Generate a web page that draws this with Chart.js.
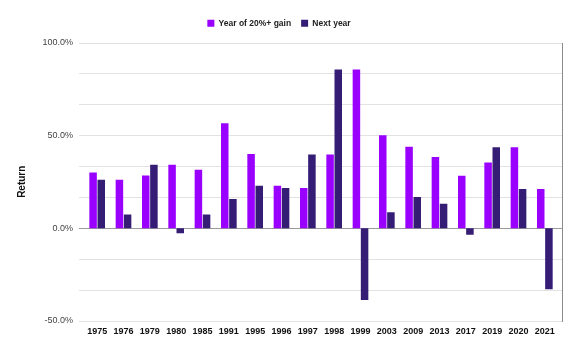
<!DOCTYPE html>
<html>
<head>
<meta charset="utf-8">
<script src="https://cdn.jsdelivr.net/npm/chart.js@4"></script>
<style>
  html, body { margin: 0; padding: 0; background: #fff; }
  #wrap { width: 580px; height: 353px; }
</style>
</head>
<body>
<div id="wrap"><canvas id="c" width="580" height="353"></canvas></div>
<script>
const categories = ["1975","1976","1979","1980","1985","1991","1995","1996","1997","1998","1999","2003","2009","2013","2017","2019","2020","2021"];
const gainYear = [30.0, 26.1, 28.4, 34.1, 31.5, 56.5, 40.0, 22.9, 21.6, 39.7, 85.4, 50.0, 43.9, 38.3, 28.2, 35.4, 43.6, 21.1];
const nextYear = [26.1, 7.3, 34.1, -2.8, 7.3, 15.7, 22.9, 21.6, 39.7, 85.4, -38.7, 8.6, 16.8, 13.2, -3.5, 43.6, 21.1, -32.9];
const yTicks = [-50, -100/3, -50/3, 0, 50/3, 100/3, 50, 200/3, 250/3, 100];
const seriesNames = ["Year of 20%+ gain", "Next year"];
const axisTitle = "Return";

const FONT = '"Liberation Sans", Arial, sans-serif';

const gridPlugin = {
  id: 'customGrid',
  beforeLayout(chart) {
    const lg = chart.legend;
    if (lg && !lg._patched) {
      const orig = lg.fit;
      lg.fit = function () { orig.call(this); this.height += 5; };
      lg._patched = true;
    }
  },
  beforeDatasetsDraw(chart) {
    const ctx = chart.ctx;
    const y = chart.scales.y;
    const area = chart.chartArea;
    const x0 = area.left - 5, x1 = area.right + 4;
    ctx.save();
    y.ticks.forEach(t => {
      const py = Math.round(y.getPixelForValue(t.value)) + 0.5;
      ctx.beginPath();
      ctx.lineWidth = 1;
      ctx.strokeStyle = Math.abs(t.value) < 1e-9 ? '#9a9a9a' : '#e2e2e2';
      ctx.moveTo(x0, py);
      ctx.lineTo(x1, py);
      ctx.stroke();
    });
    const top = Math.round(y.getPixelForValue(100));
    const bot = Math.round(y.getPixelForValue(-50));
    ctx.beginPath();
    ctx.strokeStyle = '#8a8a8a';
    ctx.moveTo(x1 + 0.5, top);
    ctx.lineTo(x1 + 0.5, bot + 1);
    ctx.stroke();
    ctx.restore();
  }
};

new Chart(document.getElementById('c'), {
  type: 'bar',
  data: {
    labels: categories,
    datasets: [
      { label: seriesNames[0], data: gainYear, backgroundColor: '#9900ff', borderWidth: 0, categoryPercentage: 0.62, barPercentage: 0.92 },
      { label: seriesNames[1], data: nextYear, backgroundColor: '#351c75', borderWidth: 0, categoryPercentage: 0.62, barPercentage: 0.92 }
    ]
  },
  plugins: [gridPlugin],
  options: {
    responsive: false,
    animation: false,
    layout: { padding: { top: 9, right: 22, bottom: 0, left: 0 } },
    plugins: {
      legend: {
        position: 'top',
        labels: {
          boxWidth: 7, boxHeight: 7, padding: 10,
          color: '#222',
          font: { family: FONT, size: 8.5, weight: 'bold' }
        }
      },
      tooltip: { enabled: false }
    },
    scales: {
      x: {
        grid: { display: false, drawTicks: false },
        border: { display: false },
        ticks: {
          color: '#111', padding: 5, maxRotation: 0, autoSkip: false,
          font: { family: FONT, size: 9, weight: 'bold' }
        },
        afterFit(s) { s.height = 32; }
      },
      y: {
        min: -50, max: 100,
        afterBuildTicks(s) { s.ticks = yTicks.map(v => ({ value: v })); },
        grid: { display: false, drawTicks: false },
        border: { display: false },
        ticks: {
          color: '#444', padding: 11,
          font: { family: FONT, size: 9 },
          callback(v) {
            const r = Math.round(v / 50) * 50;
            return Math.abs(v - r) < 1e-6 ? r.toFixed(1) + '%' : '';
          }
        },
        title: {
          display: true, text: axisTitle, color: '#111',
          font: { family: FONT, size: 10, weight: 'bold' },
          padding: { top: 16, bottom: 0 }
        },
        afterFit(s) { s.width = 84; }
      }
    }
  }
});
</script>
</body>
</html>
